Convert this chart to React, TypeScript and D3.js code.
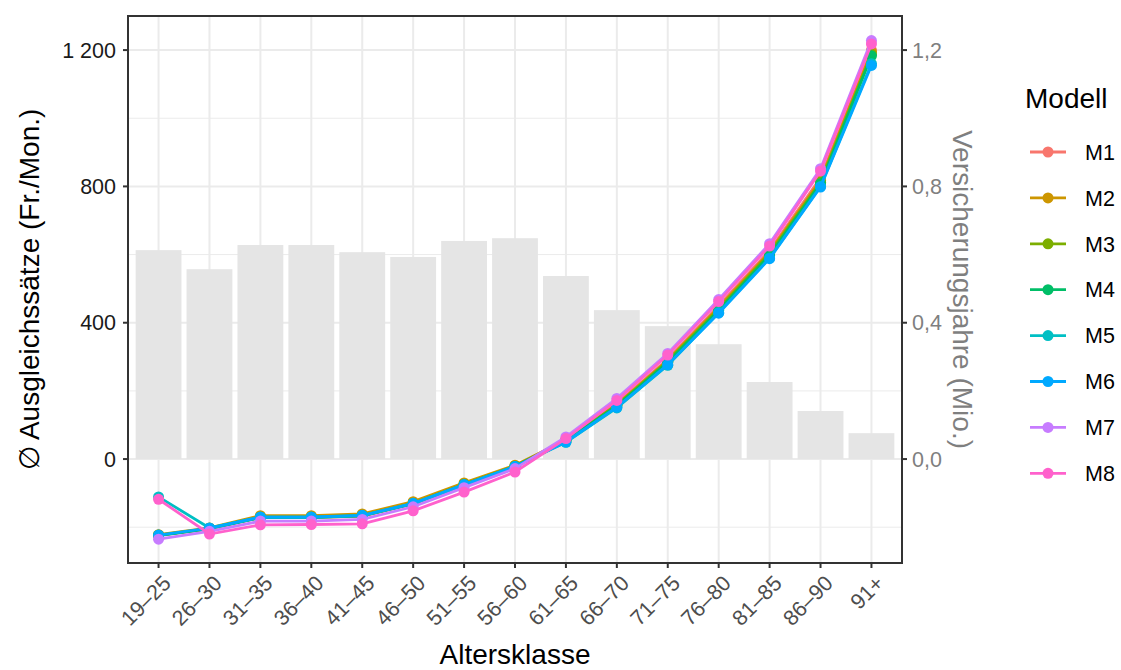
import * as d3 from 'd3';

const categories = ['19–25', '26–30', '31–35', '36–40', '41–45', '46–50', '51–55', '56–60', '61–65', '66–70', '71–75', '76–80', '81–85', '86–90', '91+'];

// Versicherungsjahre in Mio.
const exposure = [0.613, 0.557, 0.628, 0.628, 0.607, 0.593, 0.640, 0.648, 0.537, 0.437, 0.390, 0.337, 0.226, 0.141, 0.076];

const models = ['M1', 'M2', 'M3', 'M4', 'M5', 'M6', 'M7', 'M8'];
const modelColors = ['#F8766D', '#CD9600', '#7CAE00', '#00BE67', '#00BFC4', '#00A9FF', '#C77CFF', '#FF61CC'];

const m1 = [-224, -204, -172, -172, -168, -132, -76, -22, 58, 163, 293, 450, 612, 825, 1200];
const m2 = [-222, -202, -166, -166, -161, -125, -70, -18, 56, 160, 290, 445, 607, 818, 1195];
const m3 = [-223, -204, -170, -170, -165, -130, -74, -21, 55, 158, 287, 440, 603, 812, 1188];
const m4 = [-225, -205, -172, -172, -167, -131, -75, -22, 54, 156, 284, 436, 598, 808, 1183];
const m5 = [-111, -202, -171, -171, -166, -131, -76, -22, 49, 150, 275, 430, 590, 800, 1160];
const m6 = [-223, -203, -170, -170, -165, -130, -75, -22, 50, 152, 277, 428, 588, 798, 1155];
const m7 = [-235, -212, -182, -182, -177, -140, -84, -28, 65, 178, 310, 468, 632, 852, 1228];
const m8 = [-118, -220, -193, -192, -190, -152, -97, -38, 60, 172, 305, 462, 625, 845, 1218];
const series = [m1, m2, m3, m4, m5, m6, m7, m8];

const yTicks = [0, 400, 800, 1200];
const yMinor = [-200, 200, 600, 1000];
const y2Ticks = [0, 0.4, 0.8, 1.2];

const W = 1121, H = 670;
const panel = { left: 128, right: 902, top: 16, bottom: 563 };
const font = '"Liberation Sans", Arial, sans-serif';
const tickSize = 21.5;
const titleSize = 28;

export default function App() {
  const x = d3.scalePoint<string>()
    .domain(categories)
    .range([panel.left, panel.right])
    .padding(0.6);
  const step = x.step();

  const y = d3.scaleLinear()
    .domain([-305, 1300])
    .range([panel.bottom, panel.top]);

  // secondary axis: Mio. -> primary units
  const y2 = (v: number) => y(v * 1000);

  const line = d3.line<number>()
    .x((_, i) => x(categories[i]) as number)
    .y(d => y(d));

  const fmt = (v: number) => d3.format(',')(v).replace(/,/g, ' ');
  const fmt2 = (v: number) => v.toFixed(1).replace('.', ',');

  const midY = (panel.top + panel.bottom) / 2;

  return (
    <svg width={W} height={H} style={{ position: 'absolute', left: 0, top: 0, background: '#fff' }} fontFamily={font}>
      {/* grid */}
      <g>
        {yMinor.map(v => (
          <line key={'mn' + v} x1={panel.left} x2={panel.right} y1={y(v)} y2={y(v)} stroke="#EBEBEB" strokeWidth={1} />
        ))}
        {yTicks.map(v => (
          <line key={'mj' + v} x1={panel.left} x2={panel.right} y1={y(v)} y2={y(v)} stroke="#EBEBEB" strokeWidth={2} />
        ))}
        {categories.map(c => (
          <line key={'gx' + c} x1={x(c)} x2={x(c)} y1={panel.top} y2={panel.bottom} stroke="#EBEBEB" strokeWidth={2} />
        ))}
      </g>

      {/* bars */}
      <g>
        {exposure.map((v, i) => (
          <rect key={'b' + i}
            x={(x(categories[i]) as number) - step * 0.45}
            width={step * 0.9}
            y={y2(v)}
            height={y2(0) - y2(v)}
            fill="#E5E5E5" />
        ))}
      </g>

      {/* lines */}
      <g>
        {series.map((s, k) => (
          <g key={'s' + k}>
            <path d={line(s) ?? ''} fill="none" stroke={modelColors[k]} strokeWidth={2.8} />
            {s.map((v, i) => (
              <circle key={i} cx={x(categories[i])} cy={y(v)} r={5.5} fill={modelColors[k]} />
            ))}
          </g>
        ))}
      </g>

      {/* panel border */}
      <rect x={panel.left} y={panel.top} width={panel.right - panel.left} height={panel.bottom - panel.top}
        fill="none" stroke="#333333" strokeWidth={2} />

      {/* left axis */}
      <g fontSize={tickSize} fill="#1A1A1A">
        {yTicks.map(v => (
          <g key={'yt' + v}>
            <line x1={panel.left - 5} x2={panel.left} y1={y(v)} y2={y(v)} stroke="#333333" strokeWidth={2} />
            <text x={panel.left - 12} y={y(v)} dy="0.35em" textAnchor="end">{fmt(v)}</text>
          </g>
        ))}
      </g>
      <text transform={`translate(39,${midY}) rotate(-90)`} textAnchor="middle" fontSize={titleSize} fill="#000">
        ∅ Ausgleichssätze (Fr./Mon.)
      </text>

      {/* right axis */}
      <g fontSize={tickSize} fill="#7F7F7F">
        {y2Ticks.map(v => (
          <g key={'y2' + v}>
            <line x1={panel.right} x2={panel.right + 5} y1={y2(v)} y2={y2(v)} stroke="#333333" strokeWidth={2} />
            <text x={panel.right + 10} y={y2(v)} dy="0.35em" textAnchor="start">{fmt2(v)}</text>
          </g>
        ))}
      </g>
      <text transform={`translate(953,${midY}) rotate(90)`} textAnchor="middle" fontSize={titleSize} fill="#7F7F7F">
        Versicherungsjahre (Mio.)
      </text>

      {/* x axis */}
      <g fontSize={tickSize} fill="#4D4D4D">
        {categories.map(c => (
          <g key={'xt' + c}>
            <line x1={x(c)} x2={x(c)} y1={panel.bottom} y2={panel.bottom + 5} stroke="#333333" strokeWidth={2} />
            <text transform={`translate(${(x(c) as number) + 3},${panel.bottom + 11}) rotate(-45)`} textAnchor="end" dy="0.7em">{c}</text>
          </g>
        ))}
      </g>
      <text x={(panel.left + panel.right) / 2} y={664} textAnchor="middle" fontSize={titleSize} fill="#000">Altersklasse</text>

      {/* legend */}
      <g>
        <text x={1025} y={108} fontSize={titleSize} fill="#000">Modell</text>
        {models.map((m, k) => {
          const ly = 152 + k * 45.9;
          return (
            <g key={'lg' + m}>
              <line x1={1030} x2={1066} y1={ly} y2={ly} stroke={modelColors[k]} strokeWidth={2.8} />
              <circle cx={1048} cy={ly} r={5.5} fill={modelColors[k]} />
              <text x={1085} y={ly} dy="0.36em" fontSize={tickSize} fill="#000">{m}</text>
            </g>
          );
        })}
      </g>
    </svg>
  );
}
